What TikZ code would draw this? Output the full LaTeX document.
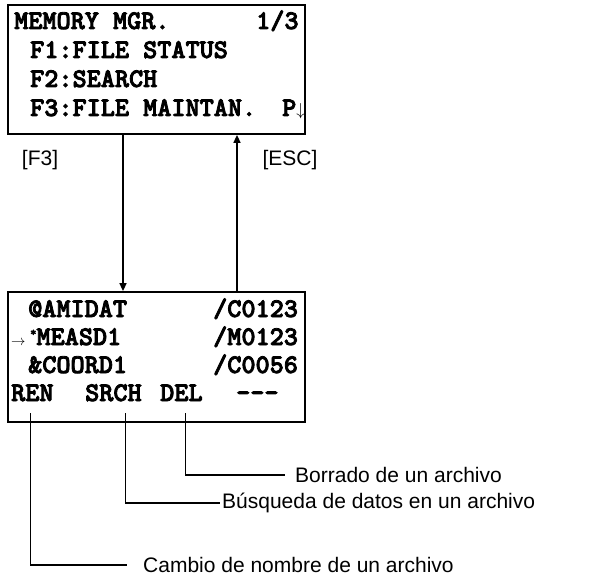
\documentclass[tikz,border=0pt]{standalone}
\usepackage{fontspec}
\setmainfont{Liberation Sans}
\newfontfamily\lcdfont[Extension=.otf,FakeBold=3]{lmmonolt10-bold}
\usetikzlibrary{arrows.meta}

\begin{document}
\begin{tikzpicture}[x=1pt,y=-1pt,
  screen/.style={draw,line width=1.8pt,minimum width=297pt,inner sep=0pt},
  lcd/.style={font=\lcdfont\fontsize{26.9}{26.9}\selectfont,inner sep=0pt,anchor=base west},
  note/.style={font=\fontsize{21}{21}\selectfont,inner sep=0pt,anchor=west},
  flow/.style={line width=1.6pt,-{Triangle[length=8pt,width=7pt]}},
  leader/.style={line width=1.3pt}]
\useasboundingbox (0,0) rectangle (598,578);

% memory manager screen
\node[screen,minimum height=129pt] (menu) at (156.5,69.5) {};
\node[lcd] (title) at (14,29) {MEMORY MGR.};
\node[lcd] (page) at (256,29) {1/3};
\node[lcd] (fone) at (30,58) {F1:FILE STATUS};
\node[lcd] (ftwo) at (30,87) {F2:SEARCH};
\node[lcd] (fthree) at (30,116) {F3:FILE MAINTAN.};
\node[lcd] (pdown) at (282,116) {P{\fontsize{17}{17}\selectfont$\downarrow$}};

% file list screen
\node[screen,minimum height=130pt] (files) at (156.5,357) {};
\node[lcd] (amidat) at (28,317) {@AMIDAT};
\node[lcd] (camidat) at (213,317) {/C0123};
\node[lcd,font=\fontsize{14}{14}\selectfont] (cursor) at (11,345) {$\rightarrow$};
\node[lcd] (measd) at (30,345) {\raisebox{9pt}{\fontsize{12}{12}\selectfont*}MEASD1};
\node[lcd] (cmeasd) at (213,345) {/M0123};
\node[lcd] (coord) at (28,373) {\&COORD1};
\node[lcd] (ccoord) at (213,373) {/C0056};
\node[lcd] (kren) at (11,401) {REN};
\node[lcd] (ksrch) at (85,401) {SRCH};
\node[lcd] (kdel) at (160,401) {DEL};
\node[lcd] (kdash) at (236,401) {---};

% keys between screens
\draw[flow] ([xshift=-33.5pt]menu.south) -- ([xshift=-33.5pt]files.north);
\draw[flow] ([xshift=80.5pt]files.north) -- ([xshift=80.5pt]menu.south);
\node[note,anchor=center] (kfthree) at (40,160) {[F3]};
\node[note,anchor=center] (kesc) at (290,160) {[ESC]};

% softkey notes
\node[note] (delnote) at (295,475) {Borrado de un archivo};
\node[note] (srchnote) at (222,503) {Búsqueda de datos en un archivo};
\node[note] (rennote) at (143,565) {Cambio de nombre de un archivo};

\draw[leader] ([xshift=4pt,yshift=-12pt]kdel.south) |- ([xshift=-10pt]delnote.west);
\draw[leader] ([xshift=12pt,yshift=-12pt]ksrch.south) |- ([xshift=-2pt]srchnote.west);
\draw[leader] ([xshift=-2pt,yshift=-12pt]kren.south) |- ([xshift=-16pt]rennote.west);
\end{tikzpicture}
\end{document}
